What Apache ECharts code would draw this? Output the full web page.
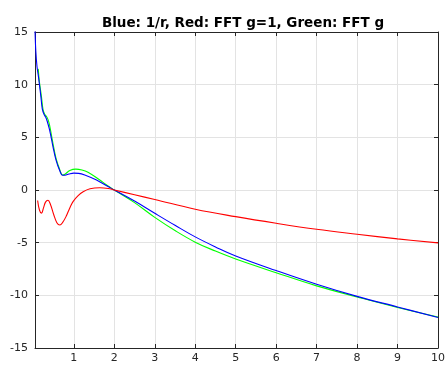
<!DOCTYPE html>
<html>
<head>
<meta charset="utf-8">
<script src="https://cdn.jsdelivr.net/npm/echarts@6/dist/echarts.min.js"></script>
<style>
html,body{margin:0;padding:0;background:#fff;}
#chart{width:448px;height:365px;}
</style>
</head>
<body>
<div id="chart"></div>
<script>
var titleText = 'Blue: 1/r, Red: FFT g=1, Green: FFT g';
var xTicks = [1, 2, 3, 4, 5, 6, 7, 8, 9, 10];
var yTicks = [-15, -10, -5, 0, 5, 10, 15];

var blueX = [0.04, 0.06, 0.09, 0.12, 0.15, 0.19, 0.22, 0.26, 0.3, 0.34, 0.4, 0.48, 0.56, 0.65, 0.72, 0.78, 0.88, 1.0, 1.12, 1.3, 1.56, 1.8, 2.0, 2.5, 3, 3.5, 4, 4.5, 5, 6, 7, 8, 9, 10];
var blueY = [15.2, 13.2, 11.7, 10.9, 10.0, 8.7, 7.7, 7.2, 6.95, 6.55, 5.7, 4.2, 2.84, 1.85, 1.4, 1.4, 1.52, 1.6, 1.58, 1.38, 0.95, 0.42, 0.0, -1.05, -2.21, -3.35, -4.45, -5.4, -6.26, -7.65, -8.95, -10.1, -11.1, -12.1];

var redX = [0.105, 0.15, 0.2, 0.25, 0.3, 0.36, 0.42, 0.5, 0.58, 0.655, 0.72, 0.81, 0.9, 0.98, 1.1, 1.23, 1.4, 1.64, 1.85, 2.0, 2.5, 3, 4, 5, 6, 7, 8, 9, 10];
var redY = [-1.0, -1.9, -2.2, -1.7, -1.15, -0.98, -1.35, -2.3, -3.1, -3.32, -3.1, -2.5, -1.7, -1.1, -0.55, -0.16, 0.12, 0.22, 0.15, 0.0, -0.45, -0.9, -1.82, -2.53, -3.16, -3.73, -4.2, -4.64, -5.02];

var greenX = [0.12, 0.145, 0.2, 0.24, 0.28, 0.32, 0.36, 0.4, 0.48, 0.56, 0.65, 0.72, 0.78, 0.9, 1.05, 1.2, 1.35, 1.64, 1.8, 2.0, 2.5, 3, 3.5, 4, 4.5, 5, 6, 7, 8, 9, 10];
var greenY = [11.5, 10.4, 8.85, 7.6, 7.2, 7.0, 6.7, 6.16, 4.5, 3.0, 1.95, 1.42, 1.5, 1.85, 1.98, 1.9, 1.68, 0.95, 0.5, 0.0, -1.2, -2.6, -3.85, -4.95, -5.8, -6.55, -7.85, -9.1, -10.15, -11.15, -12.05];

function pairs(xs, ys) { return xs.map(function (x, i) { return [x, ys[i]]; }); }

var axisColor = '#262626';
var gridColor = '#e3e3e3';
var font = 'DejaVu Sans';

var chart = echarts.init(document.getElementById('chart'), null, {renderer: 'canvas'});
chart.setOption({
  animation: false,
  backgroundColor: '#ffffff',
  title: {
    text: titleText, left: 238, top: 11, textAlign: 'center',
    textStyle: {fontFamily: font, fontSize: 13.5, fontWeight: 'bold', color: '#000'}
  },
  grid: {left: 35, right: 9, top: 32, bottom: 17, containLabel: false},
  xAxis: [{
    type: 'value', min: 0.04, max: 10, position: 'bottom',
    axisLine: {show: true, onZero: false, lineStyle: {color: axisColor, width: 1}},
    axisTick: {show: true, inside: true, length: 4, customValues: xTicks, lineStyle: {color: axisColor}},
    axisLabel: {show: true, customValues: xTicks, color: axisColor, fontFamily: font, fontSize: 11, margin: 5},
    splitLine: {show: true, lineStyle: {color: gridColor, width: 1}}
  }, {
    type: 'value', min: 0.04, max: 10, position: 'top',
    axisLine: {show: true, onZero: false, lineStyle: {color: axisColor, width: 1}},
    axisTick: {show: true, inside: true, length: 4, customValues: xTicks, lineStyle: {color: axisColor}},
    axisLabel: {show: false},
    splitLine: {show: false}
  }],
  yAxis: [{
    type: 'value', min: -15, max: 15, interval: 5, position: 'left',
    axisLine: {show: true, onZero: false, lineStyle: {color: axisColor, width: 1}},
    axisTick: {show: true, inside: true, length: 4, lineStyle: {color: axisColor}},
    axisLabel: {show: true, color: axisColor, fontFamily: font, fontSize: 11, margin: 7},
    splitLine: {show: true, lineStyle: {color: gridColor, width: 1}}
  }, {
    type: 'value', min: -15, max: 15, interval: 5, position: 'right',
    axisLine: {show: true, onZero: false, lineStyle: {color: axisColor, width: 1}},
    axisTick: {show: true, inside: true, length: 4, lineStyle: {color: axisColor}},
    axisLabel: {show: false},
    splitLine: {show: false}
  }],
  series: [{
    type: 'line', name: 'green', data: pairs(greenX, greenY), xAxisIndex: 0, yAxisIndex: 0,
    showSymbol: false, smooth: 0.4, lineStyle: {color: '#00ff00', width: 1.1}, clip: true
  }, {
    type: 'line', name: 'blue', data: pairs(blueX, blueY), xAxisIndex: 0, yAxisIndex: 0,
    showSymbol: false, smooth: 0.4, lineStyle: {color: '#0000ff', width: 1.1}, clip: true
  }, {
    type: 'line', name: 'red', data: pairs(redX, redY), xAxisIndex: 0, yAxisIndex: 0,
    showSymbol: false, smooth: 0.4, lineStyle: {color: '#ff0000', width: 1.1}, clip: true
  }]
});
</script>
</body>
</html>
